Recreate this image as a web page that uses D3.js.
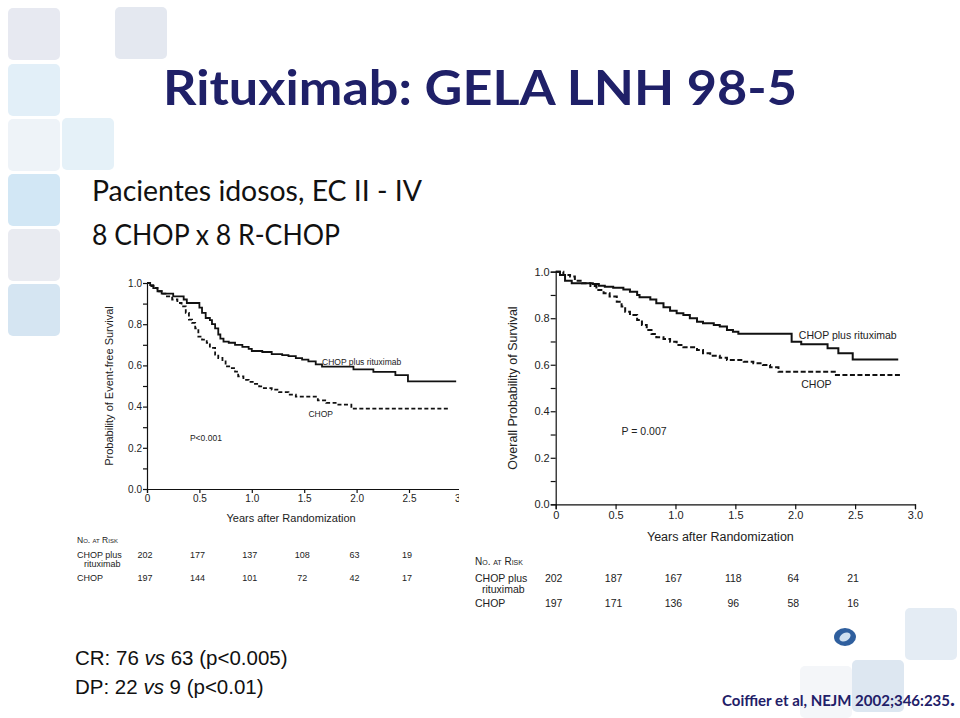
<!DOCTYPE html>
<html>
<head>
<meta charset="utf-8">
<script src="https://cdn.jsdelivr.net/npm/d3@7"></script>
<style>
  body { margin: 0; background: #fff; }
  svg { display: block; }
  .tick text { font-family: "Liberation Sans", Arial, sans-serif; fill: #222; }
</style>
</head>
<body>
<svg id="slide" width="960" height="718"></svg>
<script>
// Event-free survival (left panel), [years, probability]
const efsRchop = [[0,1],[0.03,0.99],[0.06,0.975],[0.1,0.96],[0.14,0.948],[0.25,0.935],[0.35,0.92],[0.38,0.903],
  [0.5,0.88],[0.525,0.855],[0.56,0.83],[0.6,0.82],[0.62,0.8],[0.65,0.78],[0.68,0.75],[0.7,0.73],[0.73,0.715],
  [0.78,0.71],[0.84,0.7],[0.91,0.69],[0.97,0.68],[1.0,0.67],[1.1,0.665],[1.19,0.655],[1.29,0.65],[1.35,0.645],
  [1.42,0.635],[1.48,0.628],[1.54,0.62],[1.61,0.605],[1.67,0.594],[1.97,0.581],[2.16,0.569],[2.37,0.553],
  [2.49,0.522],[2.95,0.522]];
const efsChop = [[0,1],[0.03,0.985],[0.064,0.976],[0.1,0.96],[0.14,0.948],[0.19,0.935],[0.24,0.92],[0.29,0.903],
  [0.33,0.887],[0.37,0.855],[0.4,0.822],[0.43,0.806],[0.46,0.78],[0.49,0.74],[0.525,0.725],[0.57,0.709],
  [0.6,0.685],[0.65,0.652],[0.68,0.636],[0.72,0.62],[0.75,0.595],[0.8,0.587],[0.84,0.57],[0.87,0.547],
  [0.92,0.53],[0.97,0.52],[1.03,0.51],[1.07,0.498],[1.1,0.49],[1.19,0.482],[1.26,0.47],[1.35,0.458],
  [1.42,0.448],[1.63,0.43],[1.71,0.418],[1.8,0.41],[1.95,0.39],[2.88,0.39]];

// Overall survival (right panel)
const osRchop = [[0,1],[0.036,0.986],[0.078,0.961],[0.134,0.95],[0.31,0.947],[0.36,0.94],[0.41,0.935],
  [0.48,0.931],[0.565,0.924],[0.62,0.914],[0.68,0.9],[0.7,0.89],[0.79,0.881],[0.84,0.864],[0.9,0.847],
  [0.955,0.832],[1.01,0.821],[1.066,0.814],[1.12,0.8],[1.18,0.785],[1.23,0.778],[1.32,0.771],[1.37,0.764],
  [1.43,0.749],[1.48,0.742],[1.525,0.733],[1.97,0.699],[2.05,0.688],[2.27,0.671],[2.36,0.649],[2.48,0.623],
  [2.86,0.623]];
const osChop = [[0,1],[0.064,0.986],[0.12,0.979],[0.16,0.961],[0.22,0.95],[0.29,0.938],[0.34,0.921],
  [0.4,0.907],[0.45,0.893],[0.51,0.871],[0.55,0.85],[0.58,0.828],[0.62,0.814],[0.68,0.792],[0.72,0.771],
  [0.76,0.749],[0.8,0.732],[0.84,0.718],[0.9,0.711],[0.955,0.699],[1.01,0.685],[1.066,0.675],[1.18,0.663],
  [1.23,0.649],[1.29,0.639],[1.37,0.63],[1.43,0.62],[1.57,0.613],[1.65,0.606],[1.73,0.599],[1.79,0.589],
  [1.86,0.57],[2.33,0.556],[2.89,0.556]];

// Number at risk, at 0, 0.5, 1.0, 1.5, 2.0, 2.5 years
const riskYears = [0, 0.5, 1, 1.5, 2, 2.5];
const efsRiskRchop = [202, 177, 137, 108, 63, 19];
const efsRiskChop = [197, 144, 101, 72, 42, 17];
const osRiskRchop = [202, 187, 167, 118, 64, 21];
const osRiskChop = [197, 171, 136, 96, 58, 16];

const yTicks = [0, 0.2, 0.4, 0.6, 0.8, 1.0];
const yMinor = [0.1, 0.3, 0.5, 0.7, 0.9];
const xTicks = [0, 0.5, 1.0, 1.5, 2.0, 2.5, 3.0];

const svg = d3.select("#slide");
const navy = "#1f2068";
const sans = "'Liberation Sans', Arial, sans-serif";
const humanist = "Lato, 'Open Sans', sans-serif";

// decorative squares
const squares = [
  [8, 8, "#e7e9f1"], [115, 7, "#e4e8f0"], [8, 64, "#e2eff8"], [8, 119, "#eef3f8"], [62, 118, "#e5f1f8"],
  [8, 174, "#d2e7f5"], [8, 229, "#e9ebf1"], [8, 284, "#d5e5f2"],
  [905, 608, "#e4ecf4"], [852, 660, "#dde7f1"], [800, 666, "#f4f6f9"]
];
svg.selectAll("rect.deco").data(squares).enter().append("rect")
  .attr("class", "deco")
  .attr("x", d => d[0]).attr("y", d => d[1])
  .attr("width", 52).attr("height", 52).attr("rx", 5)
  .attr("fill", d => d[2]);

// titles
svg.append("text").attr("x", 163).attr("y", 105)
  .attr("font-family", humanist).attr("font-weight", 700)
  .attr("font-size", 47).attr("fill", navy)
  .attr("textLength", 634).attr("lengthAdjust", "spacingAndGlyphs")
  .text("Rituximab: GELA LNH 98-5");
svg.append("text").attr("x", 92).attr("y", 201)
  .attr("font-family", humanist).attr("font-size", 28).attr("fill", "#111")
  .attr("textLength", 330).attr("lengthAdjust", "spacingAndGlyphs")
  .text("Pacientes idosos, EC II - IV");
svg.append("text").attr("x", 92).attr("y", 245)
  .attr("font-family", humanist).attr("font-size", 28).attr("fill", "#111")
  .attr("textLength", 248).attr("lengthAdjust", "spacingAndGlyphs")
  .text("8 CHOP x 8 R-CHOP");

function panel(cfg) {
  const g = svg.append("g");
  const x = d3.scaleLinear().domain([0, 3]).range(cfg.xr);
  const y = d3.scaleLinear().domain([0, 1]).range(cfg.yr);

  if (cfg.clip) {
    svg.append("clipPath").attr("id", cfg.id + "clip").append("rect")
      .attr("x", 0).attr("y", 0).attr("width", cfg.clip).attr("height", 718);
    g.attr("clip-path", "url(#" + cfg.id + "clip)");
  }

  const line = d3.line().x(d => x(d[0])).y(d => y(d[1])).curve(d3.curveStepAfter);
  g.append("path").datum(cfg.rchop).attr("d", line)
    .attr("fill", "none").attr("stroke", "#111").attr("stroke-width", cfg.lw);
  g.append("path").datum(cfg.chop).attr("d", line)
    .attr("fill", "none").attr("stroke", "#111").attr("stroke-width", cfg.lw)
    .attr("stroke-dasharray", cfg.dash);

  // axes
  g.append("g").attr("transform", "translate(" + x(0) + ",0)")
    .call(d3.axisLeft(y).tickValues(yTicks).tickFormat(d3.format(".1f")).tickSize(cfg.ts).tickPadding(1));
  g.append("g").attr("transform", "translate(" + x(0) + ",0)")
    .call(d3.axisLeft(y).tickValues(yMinor).tickFormat("").tickSize(cfg.ts))
    .select(".domain").remove();
  g.append("g").attr("transform", "translate(0," + y(0) + ")")
    .call(d3.axisBottom(x).tickValues(xTicks).tickFormat(d => d === 0 ? "0" : d3.format(".1f")(d))
      .tickSize(cfg.ts).tickPadding(2));
  g.selectAll(".domain, .tick line").attr("stroke", "#111").attr("stroke-width", 1.2);
  g.selectAll(".tick text").attr("font-size", cfg.tf);

  g.append("text").attr("transform", "translate(" + cfg.ylx + "," + (y(0) + y(1)) / 2 + ") rotate(-90)")
    .attr("text-anchor", "middle").attr("font-family", sans).attr("font-size", cfg.lf).attr("fill", "#222")
    .text(cfg.ylabel);
  g.append("text").attr("x", (x(0) + x(2.75)) / 2).attr("y", cfg.xly)
    .attr("text-anchor", "middle").attr("font-family", sans).attr("font-size", cfg.lf).attr("fill", "#222")
    .text("Years after Randomization");

  cfg.ann.forEach(a => {
    g.append("text").attr("x", x(a[0])).attr("y", y(a[1]))
      .attr("font-family", sans).attr("font-size", cfg.af).attr("fill", "#222").text(a[2]);
  });

  // number at risk
  const t = svg.append("g").attr("font-family", sans).attr("fill", "#222").attr("font-size", cfg.rf);
  t.append("text").attr("x", cfg.rx).attr("y", cfg.ry[0]).attr("font-variant", "small-caps")
    .attr("font-size", cfg.rf - 0.5).text("No. at Risk");
  t.append("text").attr("x", cfg.rx).attr("y", cfg.ry[1]).text("CHOP plus");
  t.append("text").attr("x", cfg.rx + 7).attr("y", cfg.ry[1] + cfg.rf).text("rituximab");
  t.append("text").attr("x", cfg.rx).attr("y", cfg.ry[2]).text("CHOP");
  [[cfg.riskR, cfg.ry[1]], [cfg.riskC, cfg.ry[2]]].forEach(r => {
    t.selectAll(null).data(r[0]).enter().append("text")
      .attr("x", (d, i) => x(riskYears[i]) - 2).attr("y", r[1])
      .attr("text-anchor", "middle").text(d => d);
  });
}

panel({
  id: "efs", xr: [147, 461.4], yr: [489, 283], clip: 459, lw: 1.8, dash: "4,2.5",
  ts: 4, tf: 10, lf: 11, af: 8.5, ylx: 113, xly: 522,
  ylabel: "Probability of Event-free Survival",
  rchop: efsRchop, chop: efsChop,
  ann: [[1.67, 0.6, "CHOP plus rituximab"], [1.54, 0.35, "CHOP"], [0.41, 0.235, "P<0.001"]],
  rx: 77, ry: [543, 558, 581], rf: 9, riskR: efsRiskRchop, riskC: efsRiskChop
});

panel({
  id: "os", xr: [555.7, 915], yr: [504.3, 271.7], clip: 0, lw: 2, dash: "5,2.5",
  ts: 5, tf: 11, lf: 12.5, af: 10.5, ylx: 517, xly: 541,
  ylabel: "Overall Probability of Survival",
  rchop: osRchop, chop: osChop,
  ann: [[2.03, 0.71, "CHOP plus rituximab"], [2.05, 0.5, "CHOP"], [0.55, 0.3, "P = 0.007"]],
  rx: 475, ry: [565, 582, 607], rf: 10.5, riskR: osRiskRchop, riskC: osRiskChop
});

// logo
const logo = svg.append("g").attr("transform", "translate(845,637)");
logo.append("ellipse").attr("rx", 11).attr("ry", 9).attr("fill", "#2f5f9e");
logo.append("ellipse").attr("rx", 6).attr("ry", 4).attr("fill", "#cfe0f0").attr("transform", "rotate(-30)");

// bottom notes
const note = svg.append("g").attr("font-family", sans).attr("font-size", 20.5).attr("fill", "#111");
const cr = note.append("text").attr("x", 75).attr("y", 665);
cr.append("tspan").text("CR: 76 ");
cr.append("tspan").attr("font-style", "italic").text("vs");
cr.append("tspan").text(" 63 (p<0.005)");
const dp = note.append("text").attr("x", 75).attr("y", 694);
dp.append("tspan").text("DP: 22 ");
dp.append("tspan").attr("font-style", "italic").text("vs");
dp.append("tspan").text(" 9 (p<0.01)");

const ref = svg.append("text").attr("x", 722).attr("y", 706)
  .attr("font-family", humanist).attr("font-weight", 700).attr("fill", navy);
ref.append("tspan").attr("font-size", 15).text("Coiffier et al, NEJM 2002;346:235");
ref.append("tspan").attr("font-size", 21).text(".");
</script>
</body>
</html>
